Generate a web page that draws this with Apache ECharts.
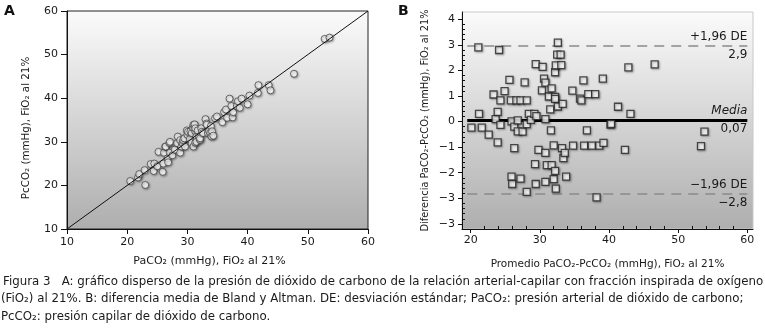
<!DOCTYPE html>
<html>
<head>
<meta charset="utf-8">
<script src="https://cdn.jsdelivr.net/npm/echarts@6/dist/echarts.min.js"></script>
<style>
  html, body { margin: 0; padding: 0; background: #fff; }
  #chart { width: 765px; height: 334px; }
</style>
</head>
<body>
<div id="chart"></div>
<script>
// Panel A: PaCO2 (x) vs PcCO2 (y), FiO2 21%
const scatterA = [
  [20.5, 21.0], [21.8, 21.8], [22.0, 22.6], [22.9, 23.5], [23.0, 20.1], [23.9, 24.9],
  [24.4, 23.3], [24.5, 25.0], [25.0, 24.4], [25.2, 27.7], [25.9, 23.1], [26.0, 25.0],
  [26.1, 27.5], [26.3, 28.9], [26.4, 28.9], [26.7, 26.2], [26.8, 25.3], [27.0, 29.7],
  [27.1, 27.5], [27.1, 30.0], [27.5, 26.9], [27.9, 28.2], [28.3, 29.7], [28.4, 31.2],
  [28.8, 30.4], [28.8, 27.5], [29.0, 28.9], [29.2, 29.7], [29.3, 30.4], [29.5, 30.8],
  [29.6, 28.9], [29.9, 32.6], [30.0, 31.6], [30.1, 32.3], [30.4, 30.6], [30.5, 32.4],
  [30.7, 32.0], [30.7, 29.7], [30.9, 33.3], [31.0, 28.9], [31.0, 33.9], [31.2, 34.0],
  [31.3, 32.4], [31.3, 33.1], [31.3, 29.8], [31.5, 31.2], [31.5, 30.0], [31.7, 32.6],
  [31.9, 31.2], [32.1, 30.4], [32.1, 30.8], [32.3, 33.1], [32.4, 32.3], [32.6, 32.0],
  [33.0, 35.2], [33.2, 34.2], [33.2, 33.9], [33.4, 32.0], [33.6, 32.5], [33.8, 32.0],
  [33.9, 33.6], [34.0, 31.2], [34.1, 32.4], [34.3, 31.4], [34.6, 35.4], [34.9, 35.8],
  [35.8, 34.5], [36.1, 36.8], [36.4, 37.4], [36.6, 35.5], [37.0, 39.9], [37.3, 38.2],
  [37.5, 35.6], [37.6, 36.8], [38.2, 38.2], [38.4, 39.3], [38.7, 37.8], [39.0, 39.9],
  [40.0, 38.6], [40.3, 40.6], [41.7, 41.2], [41.8, 43.0], [43.5, 43.0], [43.8, 41.8],
  [47.7, 45.6], [52.8, 53.6], [53.6, 53.9]
];
const identityLine = [[10, 10], [60, 60]];
const ticksA = [10, 20, 30, 40, 50, 60];

// Panel B: Bland-Altman, promedio (x) vs diferencia (y)
const diffB = [
  [21.1, 2.9], [24.1, 2.8], [20.1, -0.24], [21.2, 0.3], [21.6, -0.24], [22.6, -0.51],
  [23.3, 1.06], [23.6, 0.1], [23.9, 0.38], [23.9, -0.81], [24.3, 0.83], [24.3, -0.13],
  [24.9, 1.19], [25.6, 1.63], [25.9, 0.01], [25.8, 0.83], [25.9, -2.15], [26.0, -2.44],
  [26.3, -0.2], [26.3, -1.04], [26.6, 0.83], [26.8, 0.05], [26.8, -0.38], [27.2, 0.83],
  [27.2, -2.23], [27.5, -0.39], [27.8, 1.53], [28.1, 0.83], [28.1, -0.1], [28.1, -2.75],
  [28.4, 0.3], [28.7, 0.07], [29.2, 0.3], [29.5, 0.21], [29.3, -1.66], [29.4, 2.25],
  [29.4, -2.44], [29.8, -1.11], [30.4, 2.14], [30.3, 1.22], [30.6, 1.68], [30.8, 0.1],
  [30.8, 1.52], [30.8, -1.22], [30.8, -2.36], [31.0, -1.7], [31.3, 0.98], [31.5, 0.48],
  [31.6, -0.34], [31.7, 1.3], [31.7, -1.7], [32.0, -0.93], [32.0, -2.25], [32.2, 0.97],
  [32.2, 1.93], [32.3, 2.2], [32.2, 0.89], [32.2, -1.93], [32.3, -2.62], [32.5, 2.62],
  [32.6, 3.09], [32.6, 0.59], [33.0, 2.62], [33.1, 2.21], [33.2, -1.04], [33.3, 0.69],
  [33.4, -1.43], [33.6, -1.22], [33.8, -2.15], [34.7, 1.21], [34.8, -0.94], [35.8, 0.9],
  [36.0, 0.83], [36.3, 1.61], [36.4, -0.94], [36.8, -0.34], [37.0, 1.07], [37.5, -0.94],
  [38.0, 1.07], [38.2, -2.96], [38.6, -0.94], [39.1, 1.68], [39.2, -0.83], [40.2, -0.12],
  [40.3, -0.09], [41.3, 0.58], [42.3, -1.11], [42.8, 2.12], [43.1, 0.3], [46.6, 2.24],
  [53.3, -0.96], [53.8, -0.39]
];
const meanDiff = 0.07;
const upperLimit = 2.96;
const lowerLimit = -2.81;
const limitFrom = 19.5;
const limitTo = 60;
const limitLabels = ['+1,96 DE', '2,9', 'Media', '0,07', '\u22121,96 DE', '\u22122,8'];
const ticksBx = [20, 30, 40, 50, 60];
const minorBx = [22, 24, 26, 28, 32, 34, 36, 38, 42, 44, 46, 48, 52, 54, 56, 58];
const ticksBy = [4, 3, 2, 1, 0, -1, -2, -3, -4];
const labelsBy = ['4', '3', '2', '1', '0', '\u22121', '\u22122', '\u22123', '\u22123'];
const minorBy = [];
for (let v = -40; v <= 40; v += 2) {
  if (v % 10 !== 0) minorBy.push(v / 10);
}

const caption = [
  'Figura 3   A: gráfico disperso de la presión de dióxido de carbono de la relación arterial-capilar con fracción inspirada de oxígeno',
  '(FiO\u2082) al 21%. B: diferencia media de Bland y Altman. DE: desviación estándar; PaCO\u2082: presión arterial de dióxido de carbono;',
  'PcCO\u2082: presión capilar de dióxido de carbono.'
];

const FONT = 'DejaVu Sans';
const TXT = '#1a1a1a';

const bgGrad = {
  type: 'linear', x: 0, y: 0, x2: 0, y2: 1,
  colorStops: [{ offset: 0, color: '#fbfbfb' }, { offset: 1, color: '#aeaeae' }]
};

const chart = echarts.init(document.getElementById('chart'), null, { renderer: 'canvas' });

function limitLine(y, above, below, italicAbove, color, type, width) {
  return [
    [
      {
        coord: [limitFrom, y],
        lineStyle: { color: color, type: type, width: width },
        label: {
          show: true, position: 'insideEndTop', distance: [0, 3],
          formatter: above, fontFamily: FONT, fontSize: 12, color: TXT,
          fontStyle: italicAbove ? 'italic' : 'normal'
        }
      },
      { coord: [limitTo, y] }
    ],
    [
      {
        coord: [limitFrom, y],
        lineStyle: { color: 'rgba(0,0,0,0)', width: 1 },
        label: {
          show: true, position: 'insideEndBottom', distance: [0, 3],
          formatter: below, fontFamily: FONT, fontSize: 12, color: TXT
        }
      },
      { coord: [limitTo, y] }
    ]
  ];
}

const option = {
  animation: false,
  textStyle: { fontFamily: FONT },
  grid: [
    {
      left: 67, top: 11, width: 301, height: 218,
      show: true, backgroundColor: bgGrad, borderColor: '#222', borderWidth: 1
    },
    {
      left: 462, top: 12, width: 291, height: 217,
      show: true, backgroundColor: bgGrad, borderColor: '#c8c8c8', borderWidth: 1
    }
  ],
  xAxis: [
    {
      gridIndex: 0, type: 'value', min: 10, max: 60, interval: 10,
      splitLine: { show: false },
      axisLine: { lineStyle: { color: '#111' } },
      axisTick: { length: 5, lineStyle: { color: '#111' } },
      axisLabel: { fontFamily: FONT, fontSize: 11, color: TXT, margin: 8 },
      name: 'PaCO\u2082 (mmHg), FiO\u2082 al 21%', nameLocation: 'middle', nameGap: 27,
      nameTextStyle: { fontFamily: FONT, fontSize: 11, color: TXT, padding: [0, 16, 0, 0] }
    },
    {
      gridIndex: 1, type: 'value', min: 18.74, max: 60.82,
      splitLine: { show: false },
      axisLine: { onZero: false, lineStyle: { color: '#111' } },
      axisTick: { length: 4, customValues: ticksBx, lineStyle: { color: '#111' } },
      axisLabel: { customValues: ticksBx, fontFamily: FONT, fontSize: 11, color: TXT, margin: 6 },
      name: 'Promedio PaCO\u2082-PcCO\u2082 (mmHg), FiO\u2082 al 21%', nameLocation: 'middle', nameGap: 30,
      nameTextStyle: { fontFamily: FONT, fontSize: 10.5, color: TXT }
    },
    {
      // minor ticks, pointing into the plot
      gridIndex: 1, type: 'value', min: 18.74, max: 60.82, position: 'bottom',
      splitLine: { show: false },
      axisLine: { show: false, onZero: false },
      axisTick: { inside: true, length: 3, customValues: minorBx, lineStyle: { color: '#111' } },
      axisLabel: { show: false }
    }
  ],
  yAxis: [
    {
      gridIndex: 0, type: 'value', min: 10, max: 60, interval: 10,
      splitLine: { show: false },
      axisLine: { lineStyle: { color: '#111' } },
      axisTick: { length: 6, lineStyle: { color: '#111' } },
      axisLabel: { fontFamily: FONT, fontSize: 11, color: TXT, margin: 9 },
      name: 'PcCO\u2082 (mmHg), FiO\u2082 al 21%', nameLocation: 'middle', nameGap: 36,
      nameTextStyle: { fontFamily: FONT, fontSize: 10.3, color: TXT, padding: [0, 16, 0, 0] }
    },
    {
      gridIndex: 1, type: 'value', min: -4.2, max: 4.285,
      splitLine: { show: false },
      axisLine: { onZero: false, lineStyle: { color: '#111' } },
      axisTick: { length: 4, customValues: ticksBy, lineStyle: { color: '#111' } },
      axisLabel: {
        customValues: ticksBy, fontFamily: FONT, fontSize: 11, color: TXT, margin: 7,
        formatter: function (v) {
          const i = ticksBy.indexOf(Math.round(v));
          return i >= 0 ? labelsBy[i] : '';
        }
      },
      name: 'Diferencia PaCO\u2082-PcCO\u2082 (mmHg), FiO\u2082 al 21%', nameLocation: 'middle', nameGap: 32,
      nameTextStyle: { fontFamily: FONT, fontSize: 9.8, color: TXT }
    },
    {
      gridIndex: 1, type: 'value', min: -4.2, max: 4.285, position: 'left',
      splitLine: { show: false },
      axisLine: { show: false, onZero: false },
      axisTick: { inside: true, length: 3, customValues: minorBy, lineStyle: { color: '#111' } },
      axisLabel: { show: false }
    }
  ],
  series: [
    {
      type: 'line', xAxisIndex: 0, yAxisIndex: 0,
      data: identityLine, symbol: 'none', silent: true,
      lineStyle: { color: '#111', width: 1 }
    },
    {
      type: 'scatter', xAxisIndex: 0, yAxisIndex: 0,
      data: scatterA, symbol: 'circle', symbolSize: 7,
      itemStyle: {
        color: '#ffffff', borderColor: '#444', borderWidth: 1,
        shadowColor: 'rgba(0,0,0,0.35)', shadowBlur: 2, shadowOffsetX: 1, shadowOffsetY: 1
      }
    },
    {
      type: 'scatter', xAxisIndex: 1, yAxisIndex: 1,
      data: diffB, symbol: 'rect', symbolSize: 7, z: 3,
      itemStyle: {
        color: '#ffffff', borderColor: '#222', borderWidth: 1.3,
        shadowColor: 'rgba(0,0,0,0.35)', shadowBlur: 2, shadowOffsetX: 1, shadowOffsetY: 1
      },
      markLine: {
        silent: true, symbol: 'none', z: 2,
        data: [].concat(
          limitLine(upperLimit, limitLabels[0], limitLabels[1], false, '#8a8a8a', [10, 7], 1.5),
          limitLine(meanDiff, limitLabels[2], limitLabels[3], true, '#000', 'solid', 3),
          limitLine(lowerLimit, limitLabels[4], limitLabels[5], false, '#8a8a8a', [10, 7], 1.5)
        )
      }
    }
  ],
  graphic: [
    { type: 'text', left: 4, top: 4, style: { text: 'A', font: 'bold 14px ' + FONT, fill: '#111' } },
    { type: 'text', left: 398, top: 4, style: { text: 'B', font: 'bold 14px ' + FONT, fill: '#111' } },
    { type: 'text', left: 3, top: 276, style: { text: caption[0], font: '11.8px ' + FONT, fill: TXT } },
    { type: 'text', left: 1, top: 293, style: { text: caption[1], font: '11.8px ' + FONT, fill: TXT } },
    { type: 'text', left: 1, top: 311, style: { text: caption[2], font: '11.8px ' + FONT, fill: TXT } }
  ]
};

chart.setOption(option);
</script>
</body>
</html>
